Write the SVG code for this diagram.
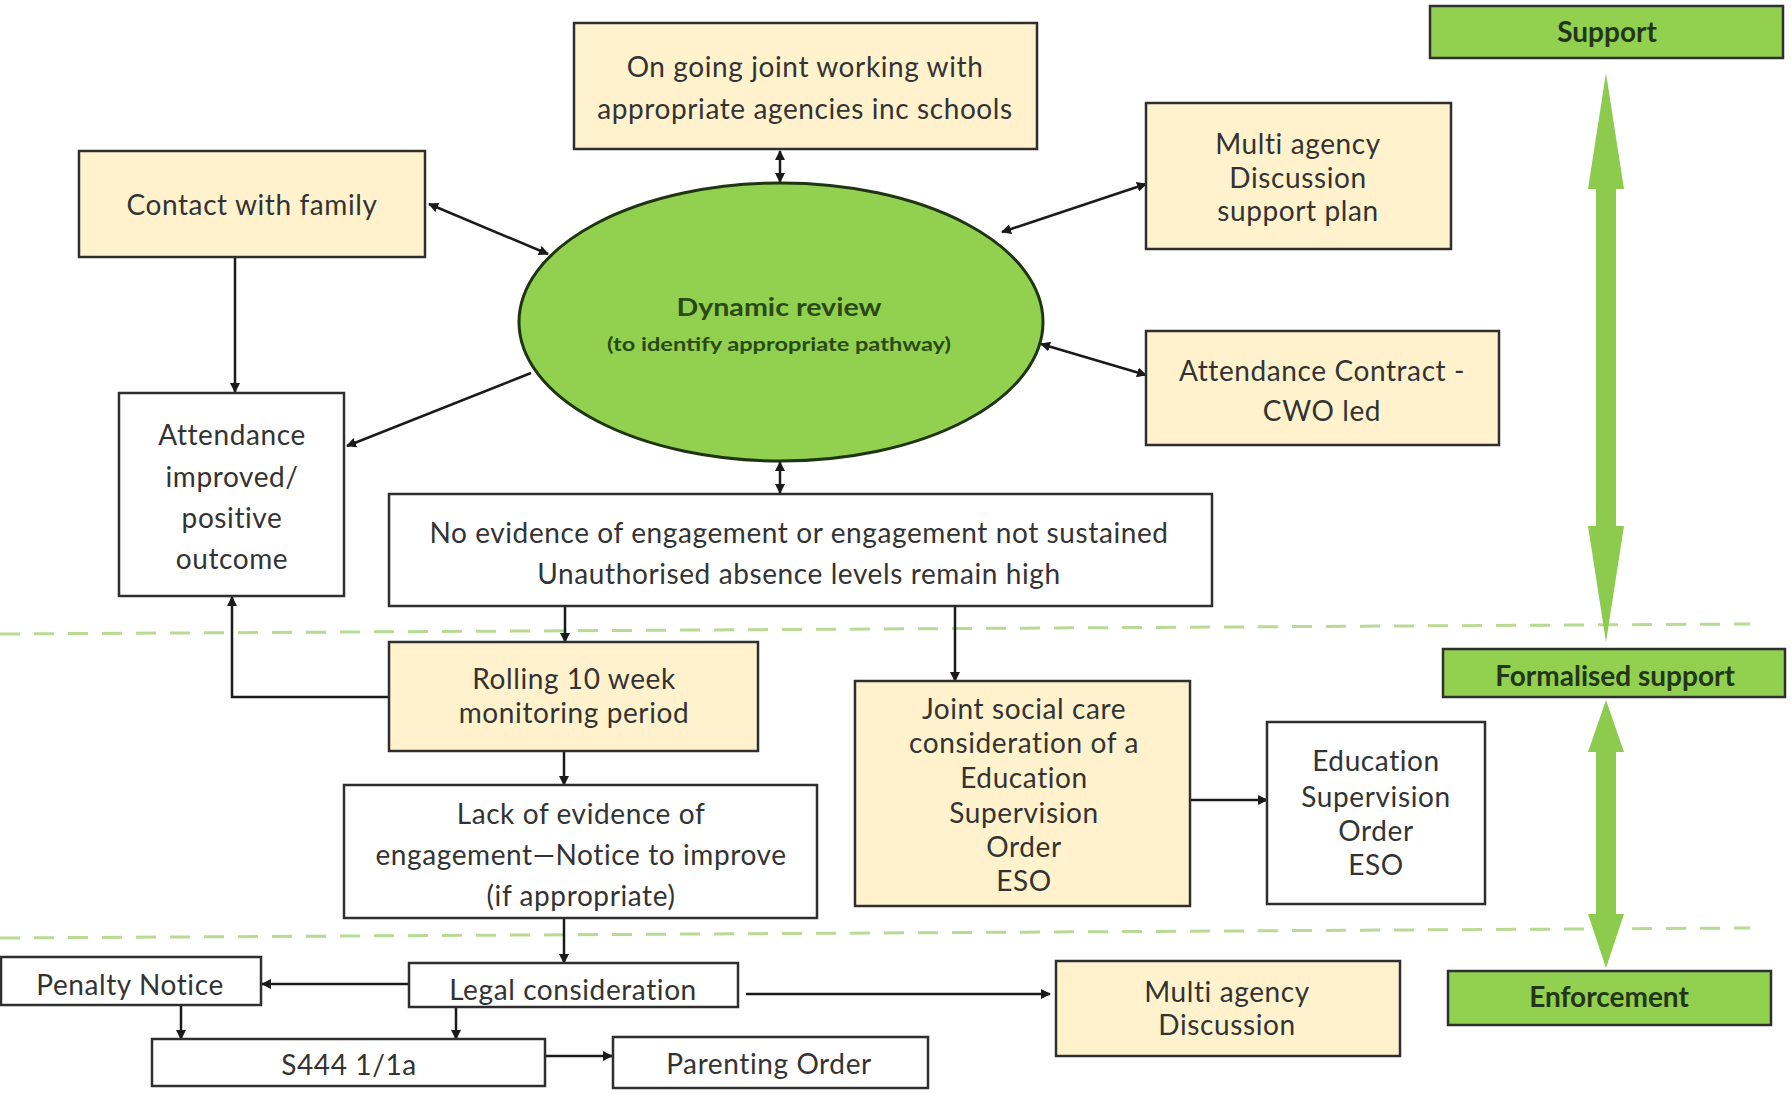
<svg xmlns="http://www.w3.org/2000/svg" width="1792" height="1094" viewBox="0 0 1792 1094">
<defs>
<style>
.box{stroke:#2f2f2f;stroke-width:2.5}
.y{fill:#FFF2CC}
.w{fill:#FFFFFF}
.g{fill:#92D050}
.t{font-family:Lato,"Liberation Sans",sans-serif;font-size:28px;letter-spacing:0.6px;fill:#333333;text-anchor:middle}
.gt{font-family:Lato,"Liberation Sans",sans-serif;font-size:28px;font-weight:bold;fill:#24361a;text-anchor:middle}
.et{font-family:Lato,"Liberation Sans",sans-serif;font-weight:bold;fill:#2a4a15;text-anchor:middle}
.c{stroke:#1a1a1a;stroke-width:2.5;fill:none}
.dash{stroke:#b9da92;stroke-width:3;stroke-dasharray:20 14;fill:none}
.big{fill:#8CCB4E}
</style>
<marker id="ah" viewBox="0 0 10 10" refX="9" refY="5" markerWidth="10" markerHeight="10" markerUnits="userSpaceOnUse" orient="auto-start-reverse">
<path d="M0,0 L10,5 L0,10 z" fill="#1a1a1a"/>
</marker>
</defs>
<rect width="1792" height="1094" fill="#ffffff"/>

<g id="dividers">
<line class="dash" x1="0" y1="634" x2="1750" y2="624"/>
<line class="dash" x1="0" y1="938" x2="1750" y2="928"/>
</g>

<g id="level-arrows">
<polygon class="big" points="1606,73 1624,189 1616,189 1616,526 1624,526 1606,642 1588,526 1596,526 1596,189 1588,189"/>
<polygon class="big" points="1606,700 1624,752 1616,752 1616,914 1624,914 1606,968 1588,914 1596,914 1596,752 1588,752"/>
</g>

<g id="connectors">
<line class="c" x1="780" y1="151" x2="780" y2="182" marker-start="url(#ah)" marker-end="url(#ah)"/>
<line class="c" x1="429" y1="204" x2="548" y2="254" marker-start="url(#ah)" marker-end="url(#ah)"/>
<line class="c" x1="235" y1="257" x2="235" y2="392" marker-end="url(#ah)"/>
<line class="c" x1="531" y1="373" x2="347" y2="446" marker-end="url(#ah)"/>
<line class="c" x1="780" y1="462" x2="780" y2="493" marker-start="url(#ah)" marker-end="url(#ah)"/>
<line class="c" x1="1002" y1="232" x2="1146" y2="184" marker-start="url(#ah)" marker-end="url(#ah)"/>
<line class="c" x1="1041" y1="344" x2="1146" y2="375" marker-start="url(#ah)" marker-end="url(#ah)"/>
<line class="c" x1="565" y1="606" x2="565" y2="642" marker-end="url(#ah)"/>
<line class="c" x1="955" y1="606" x2="955" y2="681" marker-end="url(#ah)"/>
<polyline class="c" points="389,697 232,697 232,597" marker-end="url(#ah)"/>
<line class="c" x1="564" y1="751" x2="564" y2="785" marker-end="url(#ah)"/>
<line class="c" x1="564" y1="918" x2="564" y2="963" marker-end="url(#ah)"/>
<line class="c" x1="409" y1="984" x2="262" y2="984" marker-end="url(#ah)"/>
<line class="c" x1="181" y1="1005" x2="181" y2="1039" marker-end="url(#ah)"/>
<line class="c" x1="456" y1="1007" x2="456" y2="1039" marker-end="url(#ah)"/>
<line class="c" x1="545" y1="1056" x2="612" y2="1056" marker-end="url(#ah)"/>
<line class="c" x1="746" y1="994" x2="1050" y2="994" marker-end="url(#ah)"/>
<line class="c" x1="1190" y1="800" x2="1267" y2="800" marker-end="url(#ah)"/>
</g>

<g id="ongoing">
<rect class="box y" x="574" y="23" width="463" height="126"/>
<text class="t" x="805" y="77">On going joint working with</text>
<text class="t" x="805" y="119">appropriate agencies inc schools</text>
</g>
<g id="contact">
<rect class="box y" x="79" y="151" width="346" height="106"/>
<text class="t" x="252" y="215">Contact with family</text>
</g>
<g id="multi-support">
<rect class="box y" x="1146" y="103" width="305" height="146"/>
<text class="t" x="1298" y="154">Multi agency</text>
<text class="t" x="1298" y="188">Discussion</text>
<text class="t" x="1298" y="221">support plan</text>
</g>
<g id="contract">
<rect class="box y" x="1146" y="331" width="353" height="114"/>
<text class="t" x="1322" y="381">Attendance Contract -</text>
<text class="t" x="1322" y="421">CWO led</text>
</g>
<g id="support">
<rect class="box g" x="1430" y="6" width="353" height="52"/>
<text class="gt" x="1607" y="42">Support</text>
</g>
<g id="dynamic">
<ellipse cx="781" cy="322" rx="262" ry="139" fill="#92D050" stroke="#1f3512" stroke-width="3"/>
<text class="et" x="779" y="316" font-size="25" textLength="205" lengthAdjust="spacingAndGlyphs">Dynamic review</text>
<text class="et" x="779" y="351" font-size="18" textLength="344" lengthAdjust="spacingAndGlyphs">(to identify appropriate pathway)</text>
</g>
<g id="improved">
<rect class="box w" x="119" y="393" width="225" height="203"/>
<text class="t" x="232" y="445">Attendance</text>
<text class="t" x="232" y="487">improved/</text>
<text class="t" x="232" y="528">positive</text>
<text class="t" x="232" y="569">outcome</text>
</g>
<g id="noevidence">
<rect class="box w" x="389" y="494" width="823" height="112"/>
<text class="t" x="799" y="543">No evidence of engagement or engagement not sustained</text>
<text class="t" x="799" y="584">Unauthorised absence levels remain high</text>
</g>
<g id="rolling">
<rect class="box y" x="389" y="642" width="369" height="109"/>
<text class="t" x="574" y="689">Rolling 10 week</text>
<text class="t" x="574" y="723">monitoring  period</text>
</g>
<g id="lack">
<rect class="box w" x="344" y="785" width="473" height="133"/>
<text class="t" x="581" y="824">Lack of evidence of</text>
<text class="t" x="581" y="865">engagement—Notice to improve</text>
<text class="t" x="581" y="906">(if appropriate)</text>
</g>
<g id="joint">
<rect class="box y" x="855" y="681" width="335" height="225"/>
<text class="t" x="1024" y="719">Joint social care</text>
<text class="t" x="1024" y="753">consideration of a</text>
<text class="t" x="1024" y="788">Education</text>
<text class="t" x="1024" y="823">Supervision</text>
<text class="t" x="1024" y="857">Order</text>
<text class="t" x="1024" y="891">ESO</text>
</g>
<g id="eso">
<rect class="box w" x="1267" y="722" width="218" height="182"/>
<text class="t" x="1376" y="771">Education</text>
<text class="t" x="1376" y="807">Supervision</text>
<text class="t" x="1376" y="841">Order</text>
<text class="t" x="1376" y="875">ESO</text>
</g>
<g id="formalised">
<rect class="box g" x="1443" y="649" width="342" height="48"/>
<text class="gt" x="1615" y="686">Formalised support</text>
</g>
<g id="enforcement">
<rect class="box g" x="1448" y="971" width="323" height="54"/>
<text class="gt" x="1609" y="1007">Enforcement</text>
</g>
<g id="penalty">
<rect class="box w" x="1" y="957" width="260" height="48"/>
<text class="t" x="130" y="995">Penalty Notice</text>
</g>
<g id="legal">
<rect class="box w" x="409" y="963" width="329" height="44"/>
<text class="t" x="573" y="1000">Legal consideration</text>
</g>
<g id="multi-discussion">
<rect class="box y" x="1056" y="961" width="344" height="95"/>
<text class="t" x="1227" y="1002">Multi agency</text>
<text class="t" x="1227" y="1035">Discussion</text>
</g>
<g id="s444">
<rect class="box w" x="152" y="1039" width="393" height="47"/>
<text class="t" x="349" y="1075">S444 1/1a</text>
</g>
<g id="parenting">
<rect class="box w" x="613" y="1037" width="315" height="51"/>
<text class="t" x="769" y="1074">Parenting Order</text>
</g>
</svg>
